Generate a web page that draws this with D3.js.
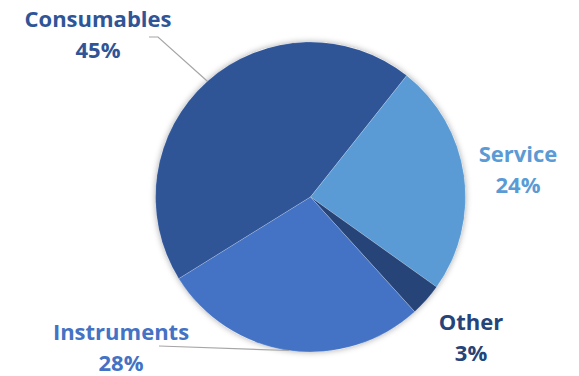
<html>
<head>
<style>
  body { margin: 0; background: #fff; }
  text { font-family: "Open Sans", sans-serif; font-weight: bold; }
</style>
</head>
<body>
<svg></svg>
<script src="https://d3js.org/d3.v7.min.js"></script>
<script>
// data
var categories = ["Consumables", "Service", "Other", "Instruments"];
var shares = [44.5, 24.2, 3.4, 27.9];
var colors = ["#2F5597", "#5B9BD5", "#264478", "#4472C4"];

var width = 579, height = 376;
var cx = 310.5, cy = 197, radius = 155;

// label anchors (centre x, first baseline) and leader elbows
var labelPos = [
  {x: 98, y: 27, leader: [[158, 37], [149, 37]]},
  {x: 518, y: 162, leader: null},
  {x: 471, y: 330, leader: null},
  {x: 121, y: 340, leader: [[159, 346]]}
];

var svg = d3.select("svg").attr("width", width).attr("height", height);

// soft shadow round the pie
var defs = svg.append("defs");
var f = defs.append("filter").attr("id", "shadow")
  .attr("x", "-10%").attr("y", "-10%").attr("width", "120%").attr("height", "120%");
f.append("feDropShadow").attr("dx", 0).attr("dy", 0).attr("stdDeviation", 3)
  .attr("flood-color", "#000").attr("flood-opacity", 0.35);

var total = d3.sum(shares);
var data = categories.map(function(c, i) { return {name: c, value: shares[i], i: i}; });

var startDeg = -121.8;
var pie = d3.pie().sort(null).value(function(d) { return d.value; })
  .startAngle(startDeg * Math.PI / 180)
  .endAngle(startDeg * Math.PI / 180 + 2 * Math.PI);
var arcs = pie(data);

var arc = d3.arc().innerRadius(0).outerRadius(radius);

var g = svg.append("g").attr("transform", "translate(" + cx + "," + cy + ")");

g.append("circle").attr("r", radius).attr("fill", "#fff").attr("filter", "url(#shadow)");

g.selectAll("path.slice")
  .data(arcs)
  .enter()
  .append("path")
  .attr("class", "slice")
  .attr("d", arc)
  .attr("fill", function(d) { return colors[d.data.i]; })
  .attr("stroke", "#fff")
  .attr("stroke-opacity", 0.3)
  .attr("stroke-width", 0.6);

// leader lines from the edge at the middle of the slice
arcs.forEach(function(d) {
  var lp = labelPos[d.data.i];
  if (!lp.leader) return;
  var mid = (d.startAngle + d.endAngle) / 2;
  var pts = [[cx + radius * Math.sin(mid), cy - radius * Math.cos(mid)]].concat(lp.leader);
  svg.append("path")
    .attr("d", d3.line()(pts))
    .attr("fill", "none")
    .attr("stroke", "#A6A6A6")
    .attr("stroke-width", 1.2);
});

// labels
arcs.forEach(function(d) {
  var lp = labelPos[d.data.i];
  var t = svg.append("text")
    .attr("text-anchor", "middle")
    .attr("fill", colors[d.data.i])
    .style("font-size", "22px");
  t.append("tspan").attr("x", lp.x).attr("y", lp.y).text(d.data.name);
  t.append("tspan").attr("x", lp.x).attr("y", lp.y + 31)
    .text(Math.round(d.data.value / total * 100) + "%");
});
</script>
</body>
</html>
